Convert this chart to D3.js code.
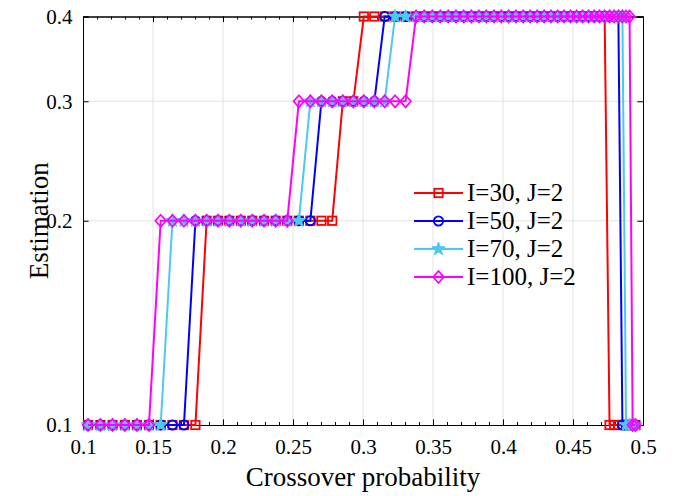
<!DOCTYPE html>
<html>
<head>
<meta charset="utf-8">
<script src="https://cdn.jsdelivr.net/npm/d3@7"></script>
<style>
  html, body { margin: 0; padding: 0; background: #fff; }
  svg { display: block; }
  text { font-family: "Liberation Serif", "Times New Roman", serif; fill: #000; }
</style>
</head>
<body>
<svg id="chart" width="675" height="496"></svg>
<script>
// Crossover probabilities (shared sampling grid)
const crossoverP = [
  0.1036, 0.1124, 0.1211, 0.1299, 0.1385, 0.1471, 0.1555, 0.1639, 0.1721, 0.1803,
  0.1883, 0.1964, 0.2045, 0.2127, 0.2209, 0.2293, 0.2376, 0.2459, 0.2542, 0.2624,
  0.2703, 0.2780, 0.2856, 0.2931, 0.3006, 0.3081, 0.3155, 0.3229, 0.3304, 0.3379,
  0.3437, 0.3495, 0.3552, 0.3609, 0.3664, 0.3719, 0.3774, 0.3828, 0.3881, 0.3935,
  0.3988, 0.4040, 0.4092, 0.4144, 0.4194, 0.4244, 0.4294, 0.4342, 0.4390, 0.4436,
  0.4482, 0.4526, 0.4569, 0.4611, 0.4651, 0.4689, 0.4726, 0.4761, 0.4794, 0.4824,
  0.4853, 0.4879, 0.4904, 0.4926, 0.4946
];

// Estimates for each (I, J) setting, one value per grid point
const estI30 = [
  0.1,0.1,0.1,0.1,0.1,0.1,0.1,0.1,0.1,0.1,
  0.2,0.2,0.2,0.2,0.2,0.2,0.2,0.2,0.2,0.2,
  0.2,0.2,0.3,0.3,0.4,0.4,0.4,0.4,0.4,0.4,
  0.4,0.4,0.4,0.4,0.4,0.4,0.4,0.4,0.4,0.4,
  0.4,0.4,0.4,0.4,0.4,0.4,0.4,0.4,0.4,0.4,
  0.4,0.4,0.4,0.4,0.4,0.4,0.4,0.1,0.1,0.1,
  0.1,0.1,0.1,0.1,0.1
];
const estI50 = [
  0.1,0.1,0.1,0.1,0.1,0.1,0.1,0.1,0.1,0.2,
  0.2,0.2,0.2,0.2,0.2,0.2,0.2,0.2,0.2,0.2,
  0.3,0.3,0.3,0.3,0.3,0.3,0.4,0.4,0.4,0.4,
  0.4,0.4,0.4,0.4,0.4,0.4,0.4,0.4,0.4,0.4,
  0.4,0.4,0.4,0.4,0.4,0.4,0.4,0.4,0.4,0.4,
  0.4,0.4,0.4,0.4,0.4,0.4,0.4,0.4,0.4,0.4,
  0.1,0.1,0.1,0.1,0.1
];
const estI70 = [
  0.1,0.1,0.1,0.1,0.1,0.1,0.1,0.2,0.2,0.2,
  0.2,0.2,0.2,0.2,0.2,0.2,0.2,0.2,0.2,0.3,
  0.3,0.3,0.3,0.3,0.3,0.3,0.3,0.4,0.4,0.4,
  0.4,0.4,0.4,0.4,0.4,0.4,0.4,0.4,0.4,0.4,
  0.4,0.4,0.4,0.4,0.4,0.4,0.4,0.4,0.4,0.4,
  0.4,0.4,0.4,0.4,0.4,0.4,0.4,0.4,0.4,0.4,
  0.4,0.1,0.1,0.1,0.1
];
const estI100 = [
  0.1,0.1,0.1,0.1,0.1,0.1,0.2,0.2,0.2,0.2,
  0.2,0.2,0.2,0.2,0.2,0.2,0.2,0.2,0.3,0.3,
  0.3,0.3,0.3,0.3,0.3,0.3,0.3,0.3,0.3,0.4,
  0.4,0.4,0.4,0.4,0.4,0.4,0.4,0.4,0.4,0.4,
  0.4,0.4,0.4,0.4,0.4,0.4,0.4,0.4,0.4,0.4,
  0.4,0.4,0.4,0.4,0.4,0.4,0.4,0.4,0.4,0.4,
  0.4,0.4,0.4,0.1,0.1
];

const seriesNames = ["I=30, J=2", "I=50, J=2", "I=70, J=2", "I=100, J=2"];
const xTicks = [0.1, 0.15, 0.2, 0.25, 0.3, 0.35, 0.4, 0.45, 0.5];
const xTickLabels = ["0.1", "0.15", "0.2", "0.25", "0.3", "0.35", "0.4", "0.45", "0.5"];
const xMinorTicks = d3.range(11, 50).map(d => d / 100);
const yTicks = [0.1, 0.2, 0.3, 0.4];
const yTickLabels = ["0.1", "0.2", "0.3", "0.4"];

const series = [
  { name: seriesNames[0], values: estI30,  color: "#ff0000", marker: "square" },
  { name: seriesNames[1], values: estI50,  color: "#0000ff", marker: "circle" },
  { name: seriesNames[2], values: estI70,  color: "#4dc9ee", marker: "star" },
  { name: seriesNames[3], values: estI100, color: "#ff00ff", marker: "diamond" }
];

const W = 675, H = 496;
const margin = { left: 83, right: 32, top: 16.5, bottom: 71 };
const iw = W - margin.left - margin.right;
const ih = H - margin.top - margin.bottom;
const serif = "'Liberation Serif', 'Times New Roman', serif";

const svg = d3.select("#chart");
const g = svg.append("g").attr("transform", `translate(${margin.left},${margin.top})`);

const x = d3.scaleLinear().domain([0.1, 0.5]).range([0, iw]);
const y = d3.scaleLog().domain([0.1, 0.4]).range([ih, 0]);

// grid
g.append("g").selectAll("line").data(xTicks.slice(1, -1)).join("line")
  .attr("x1", d => x(d)).attr("x2", d => x(d)).attr("y1", 0).attr("y2", ih)
  .attr("stroke", "#e3e3e3").attr("stroke-width", 1);
g.append("g").selectAll("line").data(yTicks.slice(1, -1)).join("line")
  .attr("y1", d => y(d)).attr("y2", d => y(d)).attr("x1", 0).attr("x2", iw)
  .attr("stroke", "#e3e3e3").attr("stroke-width", 1);

// axes with inward ticks
const majorLen = 5.6, minorLen = 3;
const xb = d3.axisBottom(x).tickValues(xTicks).tickSize(-majorLen).tickPadding(majorLen + 8)
  .tickFormat((d, i) => xTickLabels[i]);
const xt = d3.axisTop(x).tickValues(xTicks).tickSize(-majorLen).tickFormat("");
const xbMinor = d3.axisBottom(x).tickValues(xMinorTicks).tickSize(-minorLen).tickFormat("");
const xtMinor = d3.axisTop(x).tickValues(xMinorTicks).tickSize(-minorLen).tickFormat("");
const yl = d3.axisLeft(y).tickValues(yTicks).tickSize(-majorLen).tickPadding(majorLen + 5)
  .tickFormat((d, i) => yTickLabels[i]);
const yr = d3.axisRight(y).tickValues(yTicks).tickSize(-majorLen).tickFormat("");

function styleAxis(sel) {
  sel.attr("font-family", serif).attr("font-size", 21);
  sel.select(".domain").attr("stroke", "#000").attr("stroke-width", 1);
  sel.selectAll(".tick line").attr("stroke", "#000").attr("stroke-width", 1);
  sel.selectAll(".tick text").style("font-family", serif)
    .style("font-size", "21px").attr("fill", "#000");
}
g.append("g").attr("transform", `translate(0,${ih})`).call(xbMinor).call(styleAxis);
g.append("g").call(xtMinor).call(styleAxis);
g.append("g").attr("transform", `translate(0,${ih})`).call(xb).call(styleAxis);
g.append("g").call(xt).call(styleAxis);
g.append("g").call(yl).call(styleAxis);
g.append("g").attr("transform", `translate(${iw},0)`).call(yr).call(styleAxis);

// marker shapes
function drawMarker(sel, type, color) {
  if (type === "square") {
    sel.append("rect").attr("x", -4.2).attr("y", -4.2).attr("width", 8.4).attr("height", 8.4)
      .attr("fill", "none").attr("stroke", color).attr("stroke-width", 1.8);
  } else if (type === "circle") {
    sel.append("circle").attr("r", 4.6)
      .attr("fill", "none").attr("stroke", color).attr("stroke-width", 1.8);
  } else if (type === "star") {
    const R = 7, r = R * 0.42, pts = [];
    for (let k = 0; k < 10; k++) {
      const a = -Math.PI / 2 + k * Math.PI / 5;
      const rad = k % 2 === 0 ? R : r;
      pts.push([rad * Math.cos(a), rad * Math.sin(a)]);
    }
    sel.append("path").attr("d", "M" + pts.map(p => p.join(",")).join("L") + "Z")
      .attr("fill", color).attr("stroke", color).attr("stroke-width", 1);
  } else if (type === "diamond") {
    sel.append("path").attr("d", "M0,-6L5.3,0L0,6L-5.3,0Z")
      .attr("fill", "none").attr("stroke", color).attr("stroke-width", 1.8);
  }
}

const line = d3.line().x(d => x(d[0])).y(d => y(d[1]));

series.forEach(s => {
  const pts = crossoverP.map((p, i) => [p, s.values[i]]);
  const sg = g.append("g");
  sg.append("path").datum(pts).attr("d", line)
    .attr("fill", "none").attr("stroke", s.color).attr("stroke-width", 2)
    .attr("stroke-linejoin", "miter");
  sg.selectAll("g.mk").data(pts).join("g").attr("class", "mk")
    .attr("transform", d => `translate(${x(d[0])},${y(d[1])})`)
    .each(function () { drawMarker(d3.select(this), s.marker, s.color); });
});

// legend
const lg = svg.append("g").attr("transform", "translate(414,193)");
series.forEach((s, i) => {
  const row = lg.append("g").attr("transform", `translate(0,${i * 28})`);
  row.append("line").attr("x1", 0).attr("x2", 49).attr("y1", 0).attr("y2", 0)
    .attr("stroke", s.color).attr("stroke-width", 2);
  const m = row.append("g").attr("transform", "translate(24.5,0)");
  drawMarker(m, s.marker, s.color);
  row.append("text").attr("x", 53).attr("y", 8).style("font-size", "25px").text(s.name);
});

// axis titles
svg.append("text").attr("x", margin.left + iw / 2).attr("y", 486)
  .attr("text-anchor", "middle").style("font-size", "27px").text("Crossover probability");
svg.append("text").attr("transform", `translate(48,${margin.top + ih / 2}) rotate(-90)`)
  .attr("text-anchor", "middle").style("font-size", "27px").text("Estimation");
</script>
</body>
</html>
